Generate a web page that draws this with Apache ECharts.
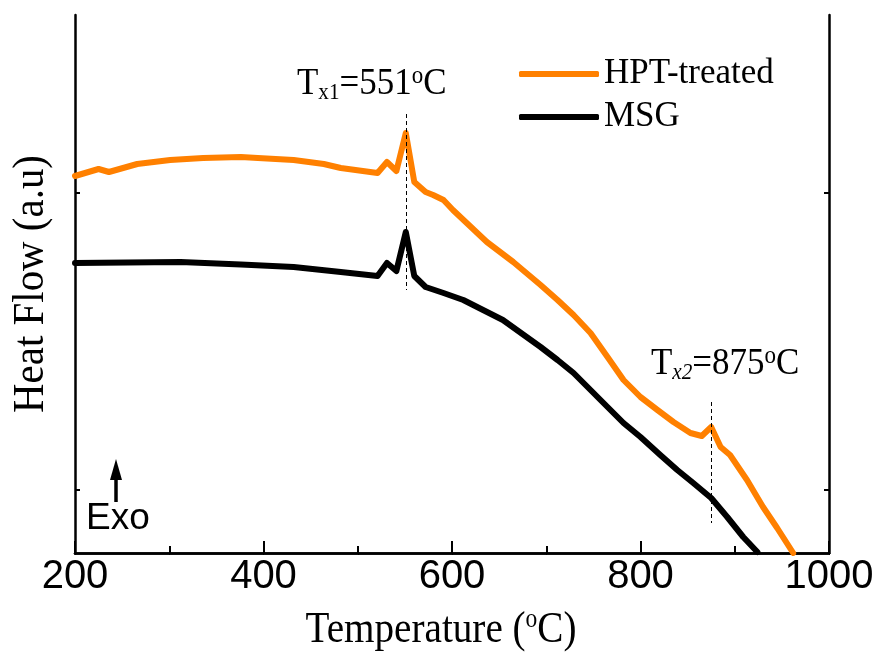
<!DOCTYPE html>
<html>
<head>
    <meta charset="utf-8">
    <title>DSC Heat Flow</title>
    <script src="https://cdn.jsdelivr.net/npm/echarts@6/dist/echarts.min.js"></script>
    <style>
        html, body { margin: 0; padding: 0; background: #fff; }
        #chart { width: 880px; height: 657px; }
    </style>
</head>
<body>
<div id="chart"></div>
<script>
    // HPT-treated curve
    var hptTemp = [200, 225, 236, 266, 301, 336, 376, 394, 432, 464, 482, 521, 531, 541, 551, 560, 572, 580, 591, 601,
        637, 665, 694, 712, 729, 747, 765, 782, 800, 818, 835, 853, 865, 875, 885, 895, 913, 930, 945, 962];
    var hptFlow = [3.77, 3.84, 3.81, 3.89, 3.93, 3.95, 3.96, 3.95, 3.93, 3.89, 3.85, 3.80, 3.91, 3.82, 4.20, 3.71, 3.61, 3.58, 3.53, 3.43,
        3.11, 2.91, 2.68, 2.53, 2.38, 2.20, 1.96, 1.73, 1.56, 1.43, 1.31, 1.20, 1.17, 1.26, 1.06, 0.98, 0.73, 0.46, 0.25, 0.00];
    // MSG curve
    var msgTemp = [200, 312, 376, 432, 482, 521, 531, 541, 551, 560, 572, 591, 612, 633, 654, 694, 712, 729, 747, 765,
        782, 800, 821, 839, 856, 875, 892, 909, 924];
    var msgFlow = [2.90, 2.91, 2.885, 2.86, 2.81, 2.77, 2.90, 2.82, 3.21, 2.77, 2.66, 2.60, 2.53, 2.43, 2.33, 2.06, 1.93, 1.80, 1.63, 1.46,
        1.30, 1.16, 0.98, 0.83, 0.70, 0.55, 0.36, 0.16, 0.01];

    // crystallization peaks: dashed markers
    var peakTemps = [551, 875];
    var dashTop = [4.39, 1.51];
    var dashBottom = [2.63, 0.30];

    var yTickValues = [0.63, 3.60];

    function zip(a, b) {
        var out = [];
        for (var i = 0; i < a.length; i++) out.push([a[i], b[i]]);
        return out;
    }

    var dashLines = [];
    for (var i = 0; i < peakTemps.length; i++) {
        dashLines.push([{coord: [peakTemps[i], dashTop[i]]}, {coord: [peakTemps[i], dashBottom[i]]}]);
    }

    var serif = '"Liberation Serif", "Times New Roman", serif';
    var sans = '"Liberation Sans", Arial, sans-serif';

    var chart = echarts.init(document.getElementById('chart'));

    function frameLine() {
        return {show: true, lineStyle: {color: '#000', width: 2.5}};
    }

    var option = {
        animation: false,
        backgroundColor: '#fff',
        grid: {left: 75, right: 51, top: 15, bottom: 104},
        legend: {
            orient: 'vertical',
            left: 514,
            top: 49,
            icon: 'roundRect',
            itemWidth: 80,
            itemHeight: 6,
            itemGap: 3,
            textStyle: {fontFamily: serif, fontSize: 35, color: '#000', lineHeight: 40},
            data: ['HPT-treated', 'MSG']
        },
        xAxis: [
            {
                type: 'value', min: 200, max: 1000, interval: 200,
                axisLine: frameLine(),
                axisTick: {inside: true, length: 12, lineStyle: {color: '#000', width: 2}},
                minorTick: {show: true, splitNumber: 2, length: 7, lineStyle: {color: '#000', width: 2}},
                axisLabel: {fontFamily: sans, fontSize: 40, color: '#000', margin: 4,
                    formatter: function(v) { return String(v); }},
                splitLine: {show: false}
            },
            {
                type: 'value', position: 'top', min: 200, max: 1000, interval: 100,
                axisLine: frameLine(),
                axisTick: {inside: true, length: 2, lineStyle: {color: '#000', width: 1}},
                axisLabel: {show: false},
                splitLine: {show: false}
            }
        ],
        yAxis: [
            {
                type: 'value', min: 0, max: 5.38,
                axisLine: frameLine(),
                axisTick: {inside: true, length: 5, customValues: yTickValues, lineStyle: {color: '#000', width: 2}},
                axisLabel: {show: false},
                splitLine: {show: false}
            },
            {
                type: 'value', position: 'right', min: 0, max: 5.38,
                axisLine: frameLine(),
                axisTick: {inside: true, length: 5, customValues: yTickValues, lineStyle: {color: '#000', width: 2}},
                axisLabel: {show: false},
                splitLine: {show: false}
            }
        ],
        series: [
            {
                name: 'HPT-treated',
                type: 'line',
                showSymbol: false,
                symbol: 'none',
                color: '#ff8000',
                lineStyle: {color: '#ff8000', width: 6, join: 'round', cap: 'round'},
                data: zip(hptTemp, hptFlow)
            },
            {
                name: 'MSG',
                type: 'line',
                showSymbol: false,
                symbol: 'none',
                color: '#000',
                lineStyle: {color: '#000', width: 6, join: 'round', cap: 'round'},
                data: zip(msgTemp, msgFlow),
                markLine: {
                    silent: true,
                    symbol: 'none',
                    label: {show: false},
                    lineStyle: {color: '#000', width: 1, type: [4, 3]},
                    data: dashLines
                }
            }
        ],
        graphic: [
            {
                type: 'text', x: 31, y: 284, rotation: Math.PI / 2, scaleX: 0.93,
                style: {text: 'Heat Flow (a.u)', font: '44px ' + serif, fill: '#000', textAlign: 'center', textVerticalAlign: 'middle'}
            },
            {
                type: 'text', x: 441, y: 630, scaleX: 0.87,
                style: {
                    text: '{m|Temperature (}{p|o}{m|C)}',
                    fill: '#000', textAlign: 'center', textVerticalAlign: 'middle',
                    rich: {
                        m: {fontFamily: serif, fontSize: 45, lineHeight: 48, verticalAlign: 'middle'},
                        p: {fontFamily: serif, fontSize: 27, lineHeight: 26, verticalAlign: 'top'}
                    }
                }
            },
            {
                type: 'text', x: 297, y: 84, scaleX: 0.92,
                style: {
                    text: '{m|T}{s|x1}{m|=551}{p|o}{m|C}',
                    fill: '#000', textAlign: 'left', textVerticalAlign: 'middle',
                    rich: {
                        m: {fontFamily: serif, fontSize: 38, lineHeight: 40, verticalAlign: 'middle'},
                        s: {fontFamily: serif, fontSize: 23, lineHeight: 18, verticalAlign: 'bottom'},
                        p: {fontFamily: serif, fontSize: 25, lineHeight: 23, verticalAlign: 'top'}
                    }
                }
            },
            {
                type: 'text', x: 651, y: 364, scaleX: 0.92,
                style: {
                    text: '{m|T}{s|x2}{m|=875}{p|o}{m|C}',
                    fill: '#000', textAlign: 'left', textVerticalAlign: 'middle',
                    rich: {
                        m: {fontFamily: serif, fontSize: 38, lineHeight: 40, verticalAlign: 'middle'},
                        s: {fontFamily: serif, fontSize: 23, fontStyle: 'italic', lineHeight: 18, verticalAlign: 'bottom'},
                        p: {fontFamily: serif, fontSize: 25, lineHeight: 23, verticalAlign: 'top'}
                    }
                }
            },
            {
                type: 'text', x: 86, y: 519,
                style: {text: 'Exo', font: '37px ' + sans, fill: '#000', textAlign: 'left', textVerticalAlign: 'middle'}
            },
            {
                type: 'line',
                shape: {x1: 116, y1: 474, x2: 116, y2: 502},
                style: {stroke: '#000', lineWidth: 3.5}
            },
            {
                type: 'polygon',
                shape: {points: [[116, 459], [110, 480], [122, 480]]},
                style: {fill: '#000'}
            }
        ]
    };

    chart.setOption(option);
</script>
</body>
</html>
